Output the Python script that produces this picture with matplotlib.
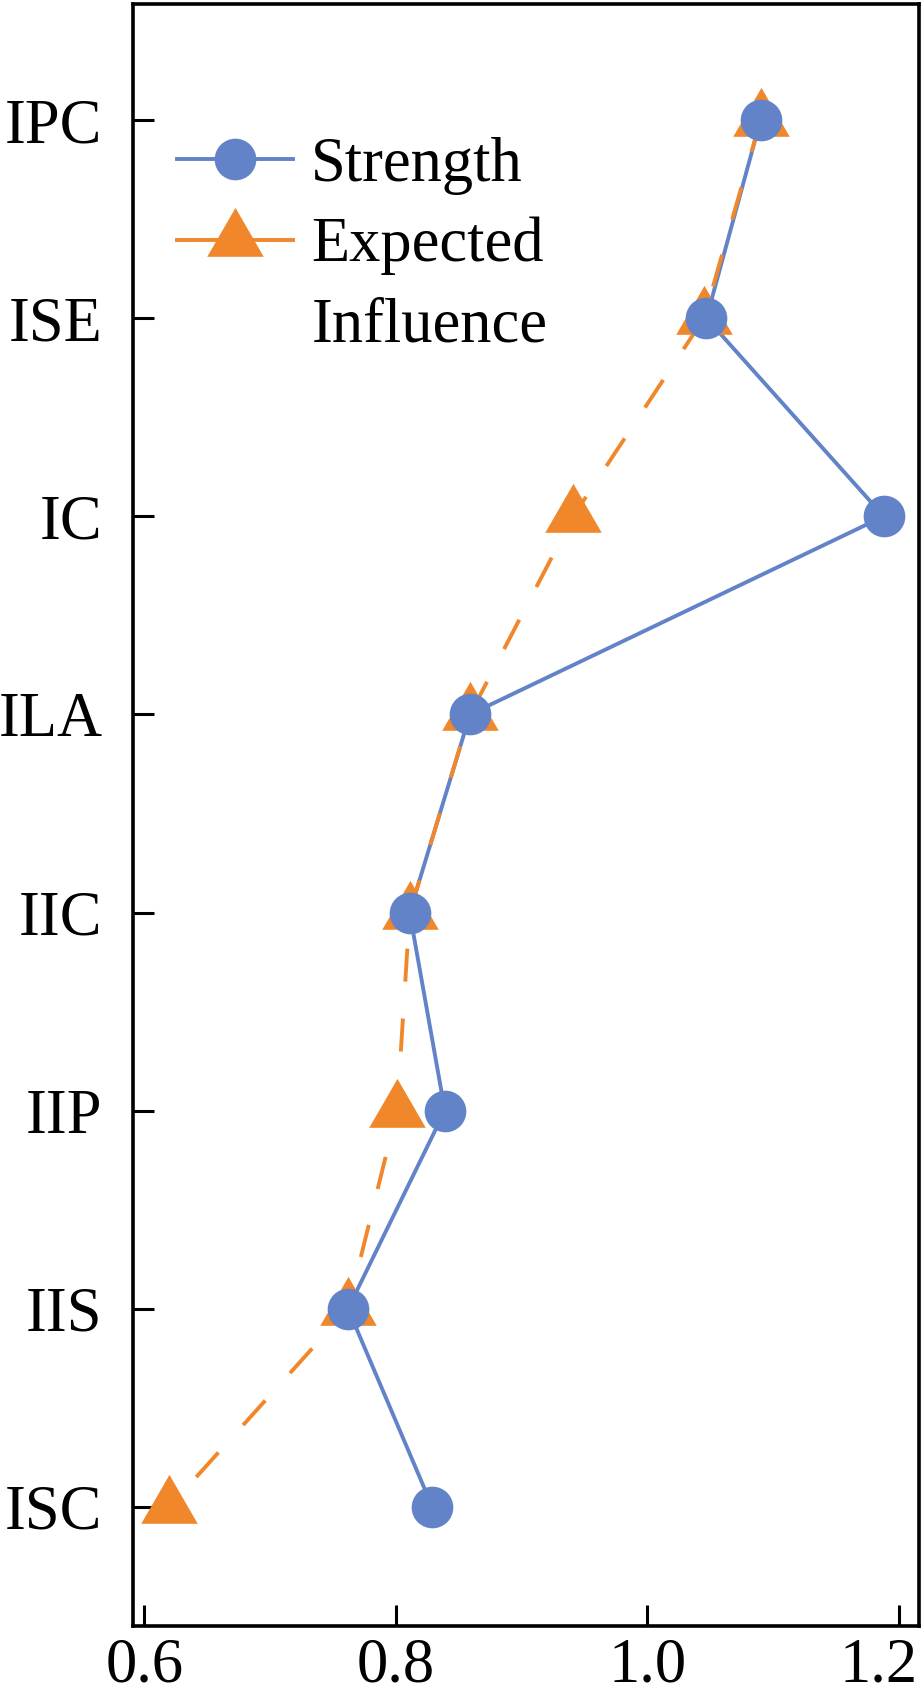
import matplotlib
matplotlib.use("Agg")
import matplotlib.pyplot as plt
from matplotlib.lines import Line2D
from matplotlib.transforms import ScaledTranslation

plt.rcParams['font.family'] = ['Liberation Serif', 'DejaVu Serif']

nodes = ["IPC", "ISE", "IC", "ILA", "IIC", "IIP", "IIS", "ISC"]
strength = [1.090, 1.047, 1.188, 0.859, 0.811, 0.839, 0.762, 0.829]
expected_influence = [1.090, 1.045, 0.941, 0.859, 0.811, 0.801, 0.762, 0.620]
xticks = [0.6, 0.8, 1.0, 1.2]

blue = "#6283C8"
orange = "#F0882B"

fig = plt.figure(figsize=(9.24, 16.94), dpi=100)
ax = fig.add_axes([0.1439, 0.0401, 0.8507, 0.9575])

ypos = list(range(len(nodes)))

# lines first (orange dashes over blue), then markers (blue circles on top)
ax.plot(strength, ypos, color=blue, lw=2.8, zorder=2)
ax.plot(expected_influence, ypos, color=orange, lw=2.8, linestyle=(0, (8.5, 9.5)), zorder=3)
ax.plot(expected_influence, ypos, linestyle="none", marker=(3, 0, 0), ms=47,
        color=orange, markeredgewidth=0, zorder=4)
ax.plot(strength, ypos, linestyle="none", marker="o", ms=30,
        color=blue, markeredgewidth=0, zorder=5)

ax.set_ylim(7.602, -0.586)
ax.set_xlim(0.591, 1.216)
ax.set_yticks(ypos)
ax.set_yticklabels(nodes)
ax.set_xticks(xticks)
ax.set_xticklabels([f"{v:.1f}" for v in xticks])

ax.tick_params(axis="both", direction="in", length=15, width=2.2, labelsize=45)
ax.tick_params(axis="y", pad=22)
ax.tick_params(axis="x", pad=8)
for s in ax.spines.values():
    s.set_linewidth(2.6)

# last x label nudged left so it stays inside the figure
last = ax.get_xticklabels()[-1]
last.set_transform(last.get_transform() + ScaledTranslation(-0.2, 0, fig.dpi_scale_trans))

handles = [
    Line2D([], [], color=blue, lw=2.8, marker="o", ms=30, markeredgewidth=0),
    Line2D([], [], color=orange, lw=2.8, marker=(3, 0, 0), ms=47, markeredgewidth=0),
    Line2D([], [], color="none"),
]
ax.legend(handles, ["Strength", "Expected", "Influence"], loc="upper left",
          bbox_to_anchor=(0.056, 0.918), frameon=False, fontsize=45,
          borderpad=0, borderaxespad=0, handlelength=1.85, handletextpad=0.3,
          labelspacing=0.35)

fig.savefig("out.png", dpi=100)
